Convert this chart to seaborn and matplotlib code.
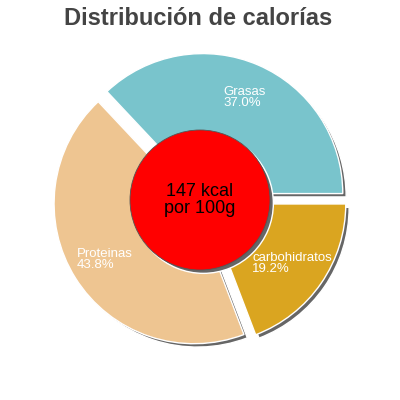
import matplotlib
matplotlib.use("Agg")
import matplotlib.pyplot as plt
import seaborn as sns

# data
nutrients = ["Grasas", "Proteinas", "carbohidratos"]
shares = [37.0, 43.8, 19.2]
slice_colors = ["#79C4CC", "#EEC591", "#DAA520"]
energy_text = "147 kcal\npor 100g"
title = "Distribución de calorías"

sns.set_theme(style="white")
plt.rcParams["font.family"] = ["Liberation Sans", "DejaVu Sans"]

fig = plt.figure(figsize=(4, 4), dpi=100)
ax = fig.add_axes([0, 0, 1, 1])

shadow_gray = "#666666"
shadow_off = (0.024, -0.024)
explode = [0.05] * len(shares)

# shadow of the slices
ax.pie(shares, explode=explode, colors=[shadow_gray] * len(shares),
       center=shadow_off, startangle=0, counterclock=True)

labels_iter = iter([f"{n}\n{s:.1f}%" for n, s in zip(nutrients, shares)])
ax.pie(
    shares,
    explode=explode,
    colors=slice_colors,
    startangle=0,
    counterclock=True,
    autopct=lambda p: next(labels_iter),
    pctdistance=0.75,
    textprops=dict(color="white", fontsize=9.5, multialignment="left",
                   linespacing=0.9),
)

# center disc with its shadow
ax.pie([1], radius=0.5, colors=[shadow_gray], center=shadow_off)
ax.pie([1], radius=0.5, colors=["#FF0000"],
       wedgeprops=dict(edgecolor="#555555", linewidth=0.6))
ax.text(0, 0, energy_text, ha="center", va="center", fontsize=13,
        color="black", linespacing=1.0)

lim = 200 / 140
ax.set_xlim(-lim, lim)
ax.set_ylim(-lim, lim)
ax.set_aspect("equal")
ax.axis("off")

fig.text(0.495, 1 - 25 / 400, title, ha="center", va="baseline",
         fontsize=17, fontweight="bold", color="#444444")

fig.savefig("out.png", dpi=100, facecolor="white")
